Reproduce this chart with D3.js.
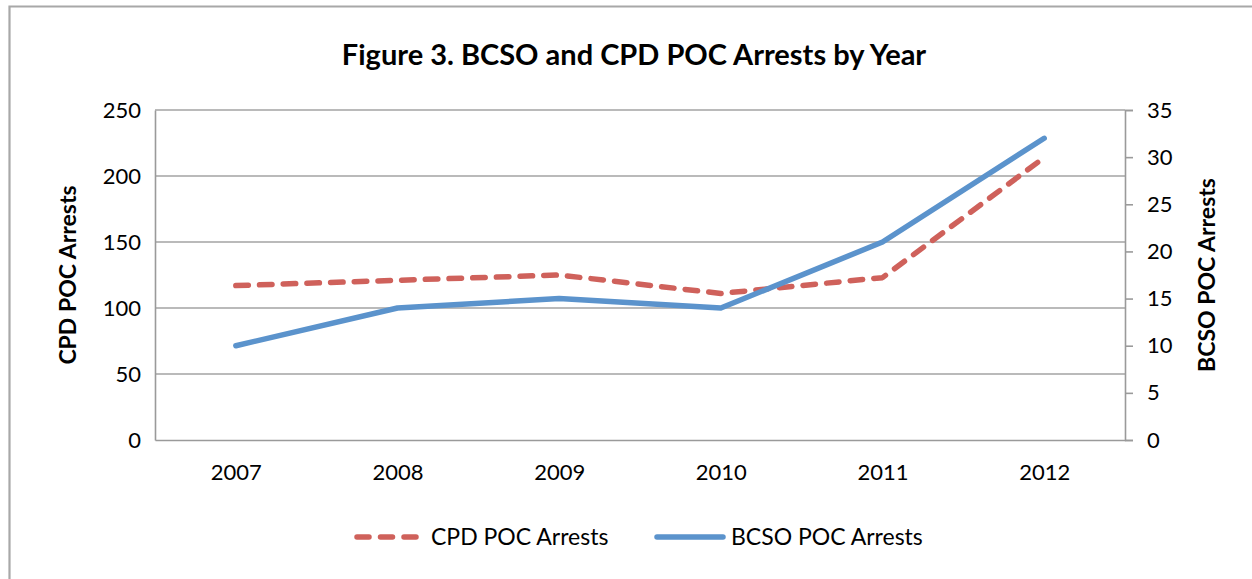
<!DOCTYPE html>
<html>
<head>
<meta charset="utf-8">
<script src="https://cdn.jsdelivr.net/npm/d3@7"></script>
<style>
  html, body { margin: 0; padding: 0; background: #fff; }
  svg { display: block; font-family: Lato, "Open Sans", sans-serif; }
</style>
</head>
<body>
<svg id="chart" width="1252" height="579"></svg>
<script>
// Point-of-contact arrests by year, two agencies on separate y axes
const years = ["2007", "2008", "2009", "2010", "2011", "2012"];
const cpdArrests = [117, 121, 125, 111, 123, 214];
const bcsoArrests = [10, 14, 15, 14, 21, 32];
const leftTicks = [0, 50, 100, 150, 200, 250];
const rightTicks = [0, 5, 10, 15, 20, 25, 30, 35];
const titleText = "Figure 3. BCSO and CPD POC Arrests by Year";
const cpdLabel = "CPD POC Arrests";
const bcsoLabel = "BCSO POC Arrests";

const svg = d3.select("#chart");
const W = 1252, H = 579;
const plot = { left: 155, right: 1125, top: 110, bottom: 440 };
const red = "#CF615B", blue = "#5B93CC", gridColor = "#a3a3a3", axisColor = "#9a9a9a";

// outer frame (extends past the right and bottom edges)
svg.append("path")
  .attr("d", `M9.5,${H + 5} V6.5 H${W + 5}`)
  .attr("fill", "none").attr("stroke", "#a8a8a8").attr("stroke-width", 2.2);

const x = d3.scalePoint().domain(years).range([plot.left, plot.right]).padding(0.5);
const yL = d3.scaleLinear().domain([0, 250]).range([plot.bottom, plot.top]);
const yR = d3.scaleLinear().domain([0, 35]).range([plot.bottom, plot.top]);

// horizontal gridlines
svg.append("g").selectAll("line").data(leftTicks.filter(d => d > 0)).join("line")
  .attr("x1", plot.left).attr("x2", plot.right)
  .attr("y1", d => yL(d)).attr("y2", d => yL(d))
  .attr("stroke", gridColor).attr("stroke-width", 1.6);

// left axis
const gL = svg.append("g").attr("transform", `translate(${plot.left},0)`)
  .call(d3.axisLeft(yL).tickValues(leftTicks).tickSize(0).tickPadding(14));
gL.select(".domain").attr("stroke", axisColor).attr("stroke-width", 1.6);
gL.selectAll("text").attr("font-size", 22).attr("fill", "#000").attr("font-family", "Lato, sans-serif");

// right axis
const gR = svg.append("g").attr("transform", `translate(${plot.right},0)`)
  .call(d3.axisRight(yR).tickValues(rightTicks).tickSizeOuter(0).tickSize(8).tickPadding(14));
gR.select(".domain").attr("stroke", axisColor).attr("stroke-width", 1.6);
gR.selectAll(".tick line").attr("stroke", axisColor).attr("stroke-width", 1.6);
gR.selectAll("text").attr("font-size", 22).attr("fill", "#000").attr("font-family", "Lato, sans-serif");

// bottom axis
const gB = svg.append("g").attr("transform", `translate(0,${plot.bottom})`)
  .call(d3.axisBottom(x).tickSize(0).tickSizeOuter(0).tickPadding(24));
gB.select(".domain").attr("stroke", axisColor).attr("stroke-width", 1.6);
gB.selectAll("text").attr("font-size", 22).attr("fill", "#000").attr("font-family", "Lato, sans-serif");

// series lines
const lineL = d3.line().x((d, i) => x(years[i])).y(d => yL(d));
const lineR = d3.line().x((d, i) => x(years[i])).y(d => yR(d));

svg.append("path").datum(cpdArrests).attr("d", lineL)
  .attr("fill", "none").attr("stroke", red).attr("stroke-width", 5.5)
  .attr("stroke-linecap", "round").attr("stroke-linejoin", "round")
  .attr("stroke-dasharray", "12.5 11.2");

svg.append("path").datum(bcsoArrests).attr("d", lineR)
  .attr("fill", "none").attr("stroke", blue).attr("stroke-width", 5.5)
  .attr("stroke-linecap", "round").attr("stroke-linejoin", "round");

// title
svg.append("text").attr("x", 634).attr("y", 65).attr("text-anchor", "middle")
  .attr("font-size", 29).attr("font-weight", "bold").text(titleText);

// axis titles
svg.append("text").attr("transform", `translate(76,275) rotate(-90)`)
  .attr("text-anchor", "middle").attr("font-size", 23).attr("font-weight", "bold").text(cpdLabel);
svg.append("text").attr("transform", `translate(1215,275) rotate(-90)`)
  .attr("text-anchor", "middle").attr("font-size", 23).attr("font-weight", "bold").text(bcsoLabel);

// legend
const legY = 537;
svg.append("line").attr("x1", 357).attr("x2", 416).attr("y1", legY).attr("y2", legY)
  .attr("stroke", red).attr("stroke-width", 5.5).attr("stroke-linecap", "round")
  .attr("stroke-dasharray", "12 11.5");
svg.append("text").attr("x", 431).attr("y", legY + 8).attr("font-size", 23).text(cpdLabel);
svg.append("line").attr("x1", 657).attr("x2", 723).attr("y1", legY).attr("y2", legY)
  .attr("stroke", blue).attr("stroke-width", 5.5).attr("stroke-linecap", "round");
svg.append("text").attr("x", 731).attr("y", legY + 8).attr("font-size", 23).text(bcsoLabel);
</script>
</body>
</html>
